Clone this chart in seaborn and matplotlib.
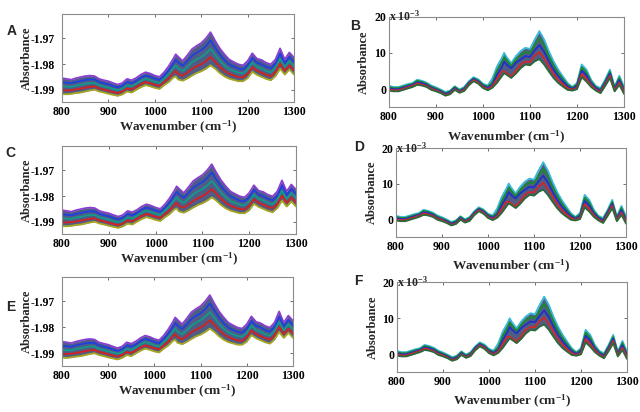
import numpy as np
import pandas as pd
import matplotlib
matplotlib.use('Agg')
import matplotlib.pyplot as plt
import seaborn as sns

# wavenumber grid (cm-1)
wavenumber = [800, 810, 820, 830, 840, 850, 860, 870, 880, 890,
              900, 910, 920, 930, 940, 950, 960, 970, 980, 990,
              1000, 1010, 1020, 1030, 1040, 1045, 1050, 1060, 1070, 1080,
              1090, 1100, 1110, 1120, 1130, 1140, 1150, 1160, 1170, 1180,
              1190, 1200, 1210, 1220, 1230, 1240, 1250, 1260, 1270, 1280,
              1290, 1300]

# left column (A, C, E): raw absorbance, top edge -> bottom edge of the bundle
left_top = [-1.9855, -1.9858, -1.9861, -1.9855, -1.9851, -1.9847, -1.9845, -1.9847, -1.9858, -1.9863,
            -1.9867, -1.9874, -1.9880, -1.9874, -1.9858, -1.9863, -1.9854, -1.9841, -1.9832, -1.9837,
            -1.9845, -1.9850, -1.9832, -1.9808, -1.9779, -1.9762, -1.9771, -1.9788, -1.9766, -1.9742,
            -1.9729, -1.9718, -1.9700, -1.9676, -1.9709, -1.9739, -1.9762, -1.9782, -1.9792, -1.9801,
            -1.9805, -1.9788, -1.9758, -1.9779, -1.9784, -1.9795, -1.9801, -1.9782, -1.9739, -1.9782,
            -1.9755, -1.9775]
left_upper = [-1.9871, -1.9873, -1.9875, -1.9870, -1.9866, -1.9862, -1.9860, -1.9860, -1.9870, -1.9875,
              -1.9879, -1.9886, -1.9891, -1.9885, -1.9870, -1.9875, -1.9866, -1.9853, -1.9845, -1.9850,
              -1.9857, -1.9862, -1.9845, -1.9824, -1.9797, -1.9784, -1.9793, -1.9807, -1.9789, -1.9768,
              -1.9756, -1.9746, -1.9730, -1.9708, -1.9736, -1.9763, -1.9784, -1.9801, -1.9810, -1.9818,
              -1.9821, -1.9805, -1.9776, -1.9795, -1.9801, -1.9811, -1.9817, -1.9798, -1.9759, -1.9797,
              -1.9772, -1.9792]
left_mid = [-1.9886, -1.9888, -1.9889, -1.9884, -1.9881, -1.9877, -1.9874, -1.9874, -1.9883, -1.9887,
            -1.9892, -1.9897, -1.9902, -1.9896, -1.9883, -1.9887, -1.9877, -1.9866, -1.9857, -1.9862,
            -1.9869, -1.9874, -1.9857, -1.9839, -1.9816, -1.9805, -1.9816, -1.9827, -1.9811, -1.9794,
            -1.9782, -1.9773, -1.9759, -1.9741, -1.9764, -1.9787, -1.9805, -1.9820, -1.9827, -1.9834,
            -1.9836, -1.9822, -1.9794, -1.9811, -1.9817, -1.9827, -1.9832, -1.9815, -1.9779, -1.9812,
            -1.9788, -1.9808]
left_lower = [-1.9902, -1.9903, -1.9902, -1.9899, -1.9896, -1.9892, -1.9889, -1.9887, -1.9895, -1.9899,
              -1.9904, -1.9909, -1.9913, -1.9907, -1.9895, -1.9899, -1.9889, -1.9878, -1.9870, -1.9875,
              -1.9881, -1.9885, -1.9870, -1.9855, -1.9834, -1.9827, -1.9838, -1.9846, -1.9834, -1.9819,
              -1.9809, -1.9801, -1.9789, -1.9773, -1.9791, -1.9811, -1.9827, -1.9838, -1.9845, -1.9851,
              -1.9852, -1.9838, -1.9812, -1.9826, -1.9834, -1.9842, -1.9848, -1.9831, -1.9798, -1.9826,
              -1.9805, -1.9825]
left_bottom = [-1.9917, -1.9918, -1.9916, -1.9913, -1.9911, -1.9907, -1.9903, -1.9900, -1.9907, -1.9911,
               -1.9916, -1.9920, -1.9924, -1.9918, -1.9907, -1.9911, -1.9900, -1.9890, -1.9882, -1.9887,
               -1.9893, -1.9897, -1.9882, -1.9870, -1.9852, -1.9848, -1.9860, -1.9865, -1.9856, -1.9845,
               -1.9835, -1.9828, -1.9818, -1.9805, -1.9818, -1.9835, -1.9848, -1.9857, -1.9862, -1.9867,
               -1.9867, -1.9855, -1.9830, -1.9842, -1.9850, -1.9858, -1.9863, -1.9847, -1.9818, -1.9841,
               -1.9821, -1.9841]

# right column (B, D, F): pretreated absorbance, in units of 1e-3
right_top = [0.9, 0.6, 0.6, 1.0, 1.4, 1.7, 2.6, 2.3, 1.8, 1.0,
             0.5, -0.1, -0.8, -0.4, 0.8, -0.1, 0.6, 2.2, 3.3, 2.7,
             1.5, 1.0, 3.0, 6.3, 8.6, 10.0, 8.9, 7.2, 9.1, 10.5,
             11.4, 11.1, 13.7, 16.0, 13.7, 10.5, 7.7, 5.4, 3.5, 1.7,
             0.6, 1.7, 6.8, 5.4, 2.6, 0.9, 0.3, 2.6, 5.4, 0.7,
             3.7, 0.7]
right_upper = [0.6, 0.3, 0.3, 0.7, 1.1, 1.4, 2.3, 2.0, 1.5, 0.7,
               0.2, -0.4, -1.1, -0.6, 0.6, -0.3, 0.3, 1.9, 3.0, 2.4,
               1.2, 0.7, 1.8, 5.2, 7.4, 8.8, 8.0, 6.5, 8.2, 9.4,
               10.3, 10.0, 12.2, 14.1, 12.0, 9.1, 6.6, 4.5, 2.8, 1.2,
               0.4, 1.3, 6.0, 4.6, 2.1, 0.6, -0.1, 2.2, 4.8, 0.4,
               3.1, 0.2]
right_mid = [0.3, 0.0, 0.0, 0.4, 0.8, 1.2, 1.9, 1.7, 1.2, 0.4,
             -0.1, -0.6, -1.3, -0.9, 0.3, -0.6, 0.1, 1.7, 2.8, 2.1,
             0.9, 0.4, 1.2, 4.0, 6.1, 7.6, 6.8, 5.8, 7.3, 8.2,
             9.1, 8.9, 10.7, 12.2, 10.3, 7.7, 5.4, 3.6, 2.1, 0.8,
             0.1, 0.9, 5.1, 3.8, 1.6, 0.3, -0.4, 1.8, 4.3, 0.1,
             2.5, -0.3]
right_lower = [-0.1, -0.3, -0.3, 0.1, 0.5, 0.9, 1.6, 1.3, 0.9, 0.1,
               -0.3, -0.9, -1.6, -1.2, 0.0, -0.8, -0.2, 1.4, 2.5, 1.8,
               0.6, 0.0, 0.8, 2.9, 4.9, 4.9, 4.4, 3.6, 5.0, 6.8,
               7.6, 7.5, 9.2, 10.2, 8.5, 6.3, 4.3, 2.6, 1.4, 0.3,
               -0.2, 0.4, 4.2, 2.9, 1.1, -0.1, -0.8, 1.3, 3.7, -0.3,
               1.8, -0.8]
right_bottom = [-0.4, -0.6, -0.6, -0.2, 0.2, 0.6, 1.2, 1.0, 0.6, -0.2,
                -0.6, -1.1, -1.8, -1.4, -0.2, -1.0, -0.5, 1.1, 2.2, 1.5,
                0.3, -0.3, 0.4, 1.8, 3.6, 4.4, 4.0, 3.1, 4.3, 5.8,
                6.8, 6.6, 7.7, 8.3, 6.8, 4.9, 3.1, 1.7, 0.7, -0.2,
                -0.4, 0.0, 3.3, 2.1, 0.6, -0.4, -1.1, 0.9, 3.1, -0.6,
                1.2, -1.3]

curve_names = ['top', 'upper', 'mid', 'lower', 'bottom']
left_colors = {'top': '#8a3fd0', 'upper': '#1f3fe0', 'mid': '#119a8a', 'lower': '#d42020', 'bottom': '#a8a820'}
right_colors = {'top': '#38b8d8', 'upper': '#1a8a2a', 'mid': '#2030c8', 'lower': '#d02828', 'bottom': '#2a6a3a'}

n = len(wavenumber)
left_df = pd.DataFrame({'wavenumber': wavenumber * 5,
                        'absorbance': left_top + left_upper + left_mid + left_lower + left_bottom,
                        'curve': np.repeat(curve_names, n)})
right_df = pd.DataFrame({'wavenumber': wavenumber * 5,
                         'absorbance': right_top + right_upper + right_mid + right_lower + right_bottom,
                         'curve': np.repeat(curve_names, n)})

sns.set_style('ticks')
plt.rcParams.update({
    'font.family': ['Liberation Serif', 'DejaVu Serif'],
    'font.weight': 'bold',
    'axes.unicode_minus': False,
    'mathtext.fontset': 'custom',
    'mathtext.rm': 'Liberation Serif:bold',
    'mathtext.it': 'Liberation Serif:bold',
    'mathtext.bf': 'Liberation Serif:bold',
})

fig = plt.figure(figsize=(6.4, 4.12), dpi=100)

# [left, bottom, width, height] in figure fractions
panels = [
    ('A', 'left', [0.0969, 0.7524, 0.3625, 0.2136], (0.011, 0.925)),
    ('B', 'right', [0.6078, 0.7396, 0.3672, 0.2199], (0.547, 0.937)),
    ('C', 'left', [0.0969, 0.4320, 0.3656, 0.2136], (0.009, 0.629)),
    ('D', 'right', [0.6188, 0.4252, 0.3594, 0.2155], (0.553, 0.643)),
    ('E', 'left', [0.0969, 0.1124, 0.3609, 0.2160], (0.009, 0.255)),
    ('F', 'right', [0.6203, 0.0964, 0.3594, 0.2184], (0.553, 0.318)),
]

for letter, side, rect, lpos in panels:
    ax = fig.add_axes(rect)
    if side == 'left':
        df, pal = left_df, left_colors
        top, bot = left_top, left_bottom
    else:
        df, pal = right_df, right_colors
        top, bot = right_top, right_bottom
    ax.fill_between(wavenumber, bot, top, color='#4f5d86', lw=0)
    sns.lineplot(data=df, x='wavenumber', y='absorbance', hue='curve', palette=pal,
                 legend=False, lw=1.3, ax=ax, estimator=None, sort=False)
    ax.set_xlim(800, 1300)
    ax.set_xticks([800, 900, 1000, 1100, 1200, 1300])
    if side == 'left':
        ax.set_ylim(-1.9948, -1.9605)
        ax.set_yticks([-1.99, -1.98, -1.97])
        ax.set_yticklabels(['-1.99', '-1.98', '-1.97'])
        ax.yaxis.set_label_coords(-0.151, 0.5)
        ax.xaxis.set_label_coords(0.5, -0.29)
        ypad = 5
    else:
        ax.set_ylim(-5, 20)
        ax.set_yticks([0, 10, 20])
        ax.yaxis.set_label_coords(-0.105, 0.5)
        ax.xaxis.set_label_coords(0.5, -0.33)
        ax.text(0.0, 1.0, 'x 10$^{-3}$', transform=ax.transAxes, ha='left', va='center',
                fontsize=8.5, fontweight='bold')
        ypad = 2
    ax.set_xlabel('Wavenumber (cm$^{-1}$)', fontsize=9.5, fontweight='bold')
    ax.set_ylabel('Absorbance', fontsize=9, fontweight='bold')
    ax.xaxis.label.set_va('center')
    ax.yaxis.label.set_va('center')
    ax.tick_params(axis='both', direction='in', top=True, right=True, length=2.5,
                   width=0.6, colors='#555555', labelcolor='black', labelsize=8.5)
    ax.tick_params(axis='x', pad=3)
    ax.tick_params(axis='y', pad=ypad)
    for lab in ax.get_xticklabels() + ax.get_yticklabels():
        lab.set_fontweight('bold')
    for sp in ax.spines.values():
        sp.set_color('#8c8c8c')
        sp.set_linewidth(0.8)
    fig.text(lpos[0], lpos[1], letter, ha='left', va='center', fontsize=10,
             fontweight='bold', family=['Liberation Sans', 'DejaVu Sans'])

fig.savefig('out.png', dpi=100)
